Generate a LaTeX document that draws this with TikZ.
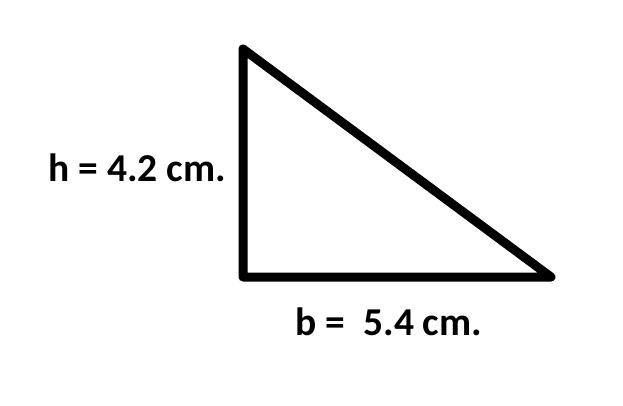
\documentclass[tikz,border=0pt]{standalone}
\usepackage{fontspec}
\setmainfont{Carlito}
\usepackage{tikz}
\usetikzlibrary{positioning}

\begin{document}
\begin{tikzpicture}[
    x=1pt, y=-1pt,
    side/.style = {line width=9pt, line join=round, line cap=round},
    lbl/.style  = {font=\fontsize{39.5}{42}\selectfont\bfseries, inner sep=0pt},
]
\useasboundingbox (0,0) rectangle (623,405);
% Corners of the triangle
\coordinate (top)   at (243,49);
\coordinate (right) at (551,277);
\coordinate (left)  at (243,277);

\draw[side] (top) -- (left) -- (right) -- cycle;

% Labels
\node[lbl, anchor=east] (h) at (226,168) {h = 4.2 cm.};
\node[lbl] (b) at (389,322) {b =\ \ 5.4 cm.};

\end{tikzpicture}
\end{document}
